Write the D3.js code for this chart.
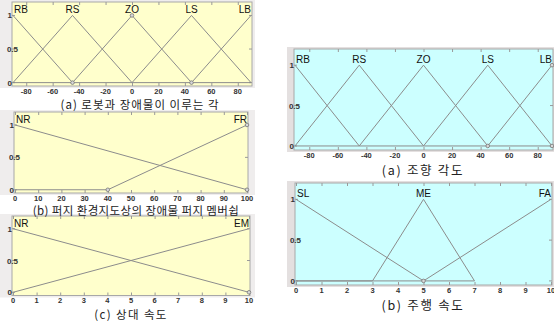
<!DOCTYPE html>
<html><head><meta charset="utf-8">
<script src="https://cdn.jsdelivr.net/npm/d3@7"></script>
<style>
body{margin:0;background:#fff}
svg{display:block}
</style></head>
<body>
<svg id="chart" width="554" height="322"></svg>
<script>
// ---- tick labels ----
const angleTicks = [-80, -60, -40, -20, 0, 20, 40, 60, 80];
const occupancyTicks = [0, 10, 20, 30, 40, 50, 60, 70, 80, 90, 100];
const speedTicks = [0, 1, 2, 3, 4, 5, 6, 7, 8, 9, 10];
const degreeTicks = [0, 0.5, 1];

// ---- (a) angle between robot and obstacle ----
const angleNames = ["RB", "RS", "ZO", "LS", "LB"];
const anglePeaks = [-90, -45, 0, 45, 90];
const angleRB = [[-90, 1], [-45, 0]];
const angleRS = [[-90, 0], [-45, 1], [0, 0]];
const angleZO = [[-45, 0], [0, 1], [45, 0]];
const angleLS = [[0, 0], [45, 1], [90, 0]];
const angleLB = [[45, 0], [90, 1]];
const angleZero = [[-90, 0], [90, 0]];
const angleMarks = [[-45, 0], [0, 1], [45, 0]];

// ---- (b) fuzzy obstacle membership on the environment map ----
const occupancyNames = ["NR", "FR"];
const occupancyPeaks = [0, 100];
const occupancyNR = [[0, 1], [100, 0]];
const occupancyFR = [[0, 0], [40, 0], [100, 1]];
const occupancyMarks = [[40, 0], [100, 1], [100, 0]];

// ---- (c) relative speed ----
const relSpeedNames = ["NR", "EM"];
const relSpeedPeaks = [0, 10];
const relSpeedNR = [[0, 1], [10, 0]];
const relSpeedEM = [[0, 0], [10, 1]];
const relSpeedMarks = [[10, 0]];

// ---- steering angle ----
const steerNames = ["RB", "RS", "ZO", "LS", "LB"];
const steerPeaks = [-90, -45, 0, 45, 90];
const steerRB = [[-90, 1], [-45, 0]];
const steerRS = [[-90, 0], [-45, 1], [0, 0]];
const steerZO = [[-45, 0], [0, 1], [45, 0]];
const steerLS = [[0, 0], [45, 1], [90, 0]];
const steerLB = [[45, 0], [90, 1]];
const steerZero = [[-90, 0], [90, 0]];
const steerMarks = [[45, 0], [90, 1], [90, 0]];

// ---- driving speed ----
const driveNames = ["SL", "ME", "FA"];
const drivePeaks = [0, 5, 10];
const driveSL = [[0, 1], [5, 0]];
const driveME = [[0, 0], [3, 0], [5, 1], [7, 0]];
const driveFA = [[5, 0], [10, 1]];
const driveZero = [[0, 0], [7, 0]];
const driveMarks = [[5, 0]];

const svg = d3.select("#chart");
const plotLayer = svg.append("g");
const captionLayer = svg.append("g");
const LINE = "#8c8c8c";
const MONO = "'Liberation Sans', Arial, sans-serif";
const KR = "'Noto Sans CJK KR', sans-serif";

function panel(o) {
  const g = plotLayer.append("g");
  const x = d3.scaleLinear().domain(o.domain).range([o.left, o.right]);
  const y = d3.scaleLinear().domain([-0.05, 1.2]).range([o.bottom, o.top]);

  // surrounding frame and plot background
  g.append("rect")
    .attr("x", o.frameLeft).attr("y", o.top - 2)
    .attr("width", o.frameRight - o.frameLeft).attr("height", o.bottom - o.top + 4)
    .attr("fill", o.frameFill);
  g.append("rect")
    .attr("x", o.left - 1).attr("y", o.top)
    .attr("width", o.right - o.left + 2).attr("height", o.bottom - o.top)
    .attr("fill", o.fill).attr("stroke", "#a8a8a8").attr("stroke-width", 1);

  // inward ticks on all four sides
  const tk = 3;
  const xt = o.xticks;
  g.append("g").selectAll("line").data(xt).join("line")
    .attr("x1", d => x(d) + 0.5).attr("x2", d => x(d) + 0.5)
    .attr("y1", o.bottom).attr("y2", o.bottom - tk)
    .attr("stroke", "#9a9a9a");
  g.append("g").selectAll("line").data(xt).join("line")
    .attr("x1", d => x(d) + 0.5).attr("x2", d => x(d) + 0.5)
    .attr("y1", o.top).attr("y2", o.top + tk)
    .attr("stroke", "#9a9a9a");
  g.append("g").selectAll("line").data(degreeTicks).join("line")
    .attr("x1", o.left - 1).attr("x2", o.left - 1 + tk)
    .attr("y1", d => y(d)).attr("y2", d => y(d))
    .attr("stroke", "#9a9a9a");
  g.append("g").selectAll("line").data(degreeTicks).join("line")
    .attr("x1", o.right + 1).attr("x2", o.right + 1 - tk)
    .attr("y1", d => y(d)).attr("y2", d => y(d))
    .attr("stroke", "#9a9a9a");

  // tick labels
  g.append("g").selectAll("text").data(xt).join("text")
    .attr("x", d => x(d)).attr("y", o.bottom + 7.5)
    .attr("text-anchor", "middle")
    .attr("font-family", MONO).attr("font-size", 7.5).attr("font-weight", "bold")
    .attr("fill", "#333")
    .text(d => d);
  g.append("g").selectAll("text").data(degreeTicks).join("text")
    .attr("x", d => d === 0.5 ? o.left + 5 : o.left - 1)
    .attr("y", d => y(d) + 3)
    .attr("text-anchor", "end")
    .attr("font-family", MONO).attr("font-size", 8).attr("font-weight", "bold")
    .attr("fill", "#333")
    .text(d => d);

  // membership functions
  const line = d3.line().x(d => x(d[0])).y(d => y(d[1]));
  g.append("g").selectAll("path").data(o.series).join("path")
    .attr("d", line)
    .attr("fill", "none").attr("stroke", LINE).attr("stroke-width", 1);

  // selected-function handles
  g.append("g").selectAll("circle").data(o.marks).join("circle")
    .attr("cx", d => x(d[0])).attr("cy", d => y(d[1])).attr("r", 1.8)
    .attr("fill", "#d8d8d8").attr("stroke", "#777").attr("stroke-width", 0.8);

  // term names
  const n = o.names.length;
  g.append("g").selectAll("text").data(o.names).join("text")
    .attr("x", (d, i) => i === 0 ? x(o.peaks[i]) + 1 : x(o.peaks[i]))
    .attr("y", y(1) - 2)
    .attr("text-anchor", (d, i) => i === 0 ? "start" : i === n - 1 ? "end" : "middle")
    .attr("font-family", MONO).attr("font-size", 10)
    .attr("fill", "#111")
    .text(d => d);

  // caption (kept on its own layer above every panel)
  captionLayer.append("text")
    .attr("x", o.capX).attr("y", o.capY)
    .attr("text-anchor", "middle")
    .attr("font-family", KR).attr("font-size", o.capSize)
    .attr("letter-spacing", o.capSpacing)
    .attr("fill", "#222")
    .text(o.caption);
}

const yellow = "#ffffcc", cyan = "#ccffff";

panel({
  left: 13, right: 251, top: 2, bottom: 86, domain: [-90, 90],
  frameLeft: 0, frameRight: 255, frameFill: "#efeded", fill: yellow,
  xticks: angleTicks, names: angleNames, peaks: anglePeaks,
  series: [angleZero, angleRB, angleRS, angleZO, angleLS, angleLB],
  marks: angleMarks,
  caption: "(a) 로봇과 장애물이 이루는 각", capX: 140, capY: 108.5, capSize: 11.5, capSpacing: 1
});

panel({
  left: 15, right: 247, top: 112, bottom: 193, domain: [0, 100],
  frameLeft: 0, frameRight: 255, frameFill: "#efeded", fill: yellow,
  xticks: occupancyTicks, names: occupancyNames, peaks: occupancyPeaks,
  series: [occupancyNR, occupancyFR],
  marks: occupancyMarks,
  caption: "(b) 퍼지 환경지도상의 장애물 퍼지 멤버쉽", capX: 136, capY: 214.5, capSize: 11.5, capSpacing: 0.4
});

panel({
  left: 13, right: 249, top: 216, bottom: 295.5, domain: [0, 10],
  frameLeft: 0, frameRight: 255, frameFill: "#efeded", fill: yellow,
  xticks: speedTicks, names: relSpeedNames, peaks: relSpeedPeaks,
  series: [relSpeedNR, relSpeedEM],
  marks: relSpeedMarks,
  caption: "(c) 상대 속도", capX: 131, capY: 319, capSize: 11.5, capSpacing: 1.4
});

panel({
  left: 295, right: 552, top: 49, bottom: 150, domain: [-90, 90],
  frameLeft: 287, frameRight: 554, frameFill: "#e4e0e0", fill: cyan,
  xticks: angleTicks, names: steerNames, peaks: steerPeaks,
  series: [steerZero, steerRB, steerRS, steerZO, steerLS, steerLB],
  marks: steerMarks,
  caption: "(a) 조향 각도", capX: 423, capY: 174.5, capSize: 12.5, capSpacing: 1.7
});

panel({
  left: 296, right: 551, top: 183, bottom: 285, domain: [0, 10],
  frameLeft: 287, frameRight: 554, frameFill: "#e4e0e0", fill: cyan,
  xticks: speedTicks, names: driveNames, peaks: drivePeaks,
  series: [driveZero, driveSL, driveME, driveFA],
  marks: driveMarks,
  caption: "(b) 주행 속도", capX: 423, capY: 309.5, capSize: 12.5, capSpacing: 1.7
});
</script>
</body></html>
